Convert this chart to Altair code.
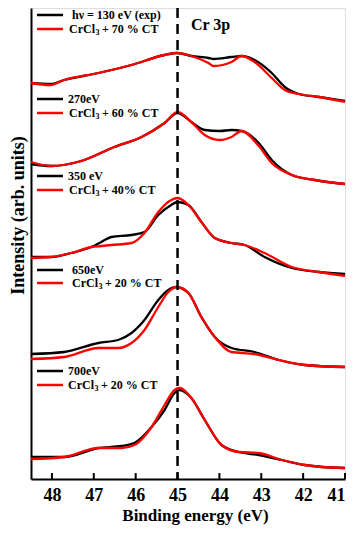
import altair as alt
import pandas as pd

# ---- data (binding energy eV, intensity arb. units with offsets) ----
e_130 = [48.5, 48.04, 47.71, 46.89, 46.10, 45.31, 45.0, 44.67, 44.26, 44.14, 43.71, 43.47, 43.16, 42.75, 42.44, 42.10, 41.62, 41.0]
exp_130 = [396, 395, 399, 406, 414, 424, 426, 423, 421, 420, 422, 423, 419, 406, 392, 385, 382, 378]
fit_130 = [396, 394, 399, 406, 414, 424, 426, 423, 416, 413, 417, 423, 417, 401, 389, 385, 382, 377]

e_270 = [48.5, 48.02, 47.30, 46.51, 45.86, 45.31, 45.0, 44.67, 44.35, 43.99, 43.71, 43.47, 43.06, 42.75, 42.27, 41.72, 41.0]
exp_270 = [315, 313, 318, 332, 342, 356, 366, 357, 349, 348, 349, 348, 336, 319, 304, 299, 295]
fit_270 = [317, 313, 318, 332, 342, 356, 367, 357, 344, 339, 342, 348, 333, 316, 304, 299, 295]

e_350 = [48.5, 48.02, 47.54, 47.06, 46.82, 46.58, 46.10, 45.79, 45.46, 45.15, 45.0, 44.74, 44.43, 44.11, 43.71, 43.40, 42.92, 42.27, 41.62, 41.0]
exp_350 = [222, 222, 226, 232, 237, 242, 244, 247, 264, 274, 277, 274, 257, 241, 236, 234, 222, 211, 207, 205]
fit_350 = [221, 222, 226, 232, 233, 234, 236, 246, 267, 279, 281, 274, 257, 241, 236, 234, 226, 212, 207, 203]

e_650 = [48.5, 47.71, 46.89, 46.42, 46.10, 45.79, 45.46, 45.22, 45.03, 44.74, 44.43, 44.11, 43.71, 43.16, 42.58, 41.96, 41.0]
exp_650 = [125, 127, 136, 139, 146, 159, 179, 189, 192, 186, 162, 142, 131, 127, 119, 114, 112]
fit_650 = [120, 122, 131, 131, 136, 149, 172, 187, 192, 186, 162, 142, 127, 125, 119, 114, 112]

e_700 = [48.5, 47.71, 46.89, 46.34, 46.03, 45.62, 45.31, 45.07, 44.95, 44.67, 44.35, 43.95, 43.54, 43.06, 42.51, 41.96, 41.55, 41.0]
exp_700 = [22, 22, 31, 33, 36, 52, 69, 86, 89, 81, 59, 34, 27, 24, 19, 14, 12, 11]
fit_700 = [20, 22, 31, 31, 34, 52, 74, 89, 91, 81, 59, 34, 27, 26, 19, 14, 12, 11]

x_ticks = [48, 47, 46, 45, 44, 43, 42, 41]
marker_energy = [45]

exp_labels = ["h\u03bd = 130 eV (exp)", "270eV", "350 eV", "650eV", "700eV"]
fit_suffix = ["+ 70 % CT", "+ 60 % CT", "+ 40% CT", "+ 20 % CT", "+ 20 % CT"]

# ---- build tables ----
curves = [("130", e_130, exp_130, fit_130), ("270", e_270, exp_270, fit_270),
          ("350", e_350, exp_350, fit_350), ("650", e_650, exp_650, fit_650),
          ("700", e_700, exp_700, fit_700)]
rows = []
for name, es, ex, fi in curves:
    for i, e in enumerate(es):
        rows.append({"curve": name, "kind": "exp", "E": e, "I": ex[i], "o": i})
        rows.append({"curve": name, "kind": "fit", "E": e, "I": fi[i], "o": i})
df = pd.DataFrame(rows)

W, H = 314, 471
FONT = "Liberation Serif"

# legend layout (pixel positions inside plot)
leg_black_y = [7, 91, 168, 262, 363]
leg_red_y = [21, 105, 182, 275, 377]
leg_exp_x = [41, 37, 37, 41, 37]
leg_fit_x = [38, 38, 38, 41, 37]
leg_lines, leg_exp, leg_fit = [], [], []
for k in range(5):
    leg_lines.append({"x": 6, "x2": 32, "y": leg_black_y[k], "kind": "exp"})
    leg_lines.append({"x": 6, "x2": 32, "y": leg_red_y[k], "kind": "fit"})
    leg_exp.append({"x": leg_exp_x[k], "y": leg_black_y[k], "t": exp_labels[k]})
    leg_fit.append({"x": leg_fit_x[k], "y": leg_red_y[k], "a": "CrCl", "b": "3", "c": fit_suffix[k]})
leg_lines = pd.DataFrame(leg_lines)
leg_exp = pd.DataFrame(leg_exp)
leg_fit = pd.DataFrame(leg_fit)

xscale = alt.Scale(domain=[41, 48.5], reverse=True, nice=False, zero=False)
yscale = alt.Scale(domain=[0, 471], nice=False, zero=False)
color = alt.Color("kind:N", scale=alt.Scale(domain=["exp", "fit"], range=["#000000", "#ff0000"]), legend=None)

x_enc = alt.X("E:Q", scale=xscale,
              axis=alt.Axis(values=x_ticks, title="Binding energy (eV)", ticks=False, tickSize=0,
                            grid=False, labelPadding=7, titlePadding=3, labelFontSize=18,
                            titleFontSize=17, labelFont=FONT, titleFont=FONT,
                            labelFontWeight="bold", titleFontWeight="bold",
                            labelColor="black", titleColor="black", domainColor="black",
                            domainWidth=2, titleX=164, format="d"))
y_enc = alt.Y("I:Q", scale=yscale,
              axis=alt.Axis(title="Intensity (arb. units)", labels=False, ticks=False, tickSize=0,
                            grid=False, titleFontSize=18, titleFont=FONT, titleFontWeight="bold",
                            titleColor="black", domainColor="black", domainWidth=2,
                            titlePadding=4, titleY=207))

base = alt.Chart(df)
exp_lines = base.transform_filter(alt.datum.kind == "exp").mark_line(
    strokeWidth=2.3, interpolate="monotone").encode(
    x=x_enc, y=y_enc, color=color, detail="curve:N", order="o:Q")
fit_lines = base.transform_filter(alt.datum.kind == "fit").mark_line(
    strokeWidth=2.3, interpolate="monotone").encode(
    x=alt.X("E:Q", scale=xscale), y=alt.Y("I:Q", scale=yscale), color=color,
    detail="curve:N", order="o:Q")

dash = alt.Chart(pd.DataFrame({"E": marker_energy})).mark_rule(
    color="black", strokeWidth=2.5, strokeDash=[10, 6]).encode(
    x=alt.X("E:Q", scale=xscale))

tick_marks = alt.Chart(pd.DataFrame({"E": x_ticks})).mark_rule(
    color="black", strokeWidth=2).encode(
    x=alt.X("E:Q", scale=xscale), y=alt.value(H), y2=alt.value(H - 6))

legend_rules = alt.Chart(leg_lines).mark_rule(strokeWidth=2.5).encode(
    x=alt.X("x:Q", scale=None), x2="x2:Q", y=alt.Y("y:Q", scale=None), color=color)

txt_style = dict(align="left", baseline="middle", font=FONT, fontWeight="bold", color="black")
legend_exp = alt.Chart(leg_exp).mark_text(fontSize=12, **txt_style).encode(
    x=alt.X("x:Q", scale=None), y=alt.Y("y:Q", scale=None), text="t:N")
fit_base = alt.Chart(leg_fit)
legend_fit_a = fit_base.mark_text(fontSize=12, **txt_style).encode(
    x=alt.X("x:Q", scale=None), y=alt.Y("y:Q", scale=None), text="a:N")
legend_fit_b = fit_base.mark_text(fontSize=8, dx=26.5, dy=4, **txt_style).encode(
    x=alt.X("x:Q", scale=None), y=alt.Y("y:Q", scale=None), text="b:N")
legend_fit_c = fit_base.mark_text(fontSize=12, dx=33, **txt_style).encode(
    x=alt.X("x:Q", scale=None), y=alt.Y("y:Q", scale=None), text="c:N")

title_txt = alt.Chart(pd.DataFrame({"t": ["Cr 3p"]})).mark_text(
    fontSize=16, **txt_style).encode(
    x=alt.value(160), y=alt.value(17), text="t:N")

chart = alt.layer(exp_lines, fit_lines, dash, tick_marks, legend_rules, legend_exp,
                  legend_fit_a, legend_fit_b, legend_fit_c, title_txt).properties(
    width=W, height=H,
    autosize=alt.AutoSizeParams(type="none"),
    padding={"left": 23, "top": 0, "right": 2, "bottom": 51},
).configure_view(stroke="black", strokeWidth=2).configure(background="white")

chart.save("out.html", embed_options={"renderer": "svg", "actions": False})
